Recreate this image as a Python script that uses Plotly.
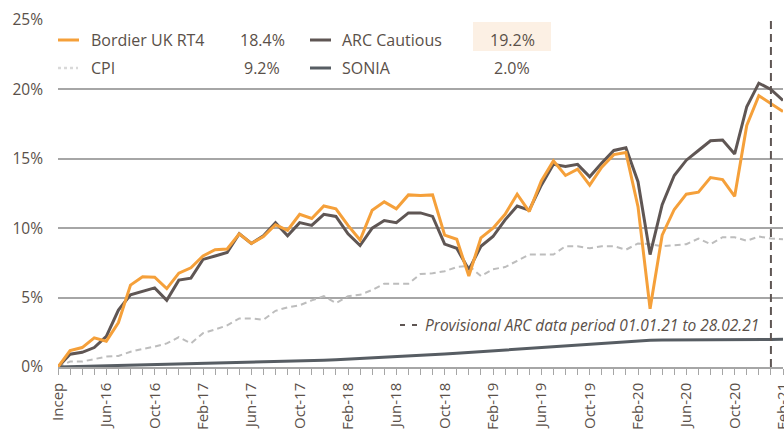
import plotly.graph_objects as go

months = ["Incep",
          "Mar-16", "Apr-16", "May-16", "Jun-16", "Jul-16", "Aug-16", "Sep-16", "Oct-16", "Nov-16", "Dec-16",
          "Jan-17", "Feb-17", "Mar-17", "Apr-17", "May-17", "Jun-17", "Jul-17", "Aug-17", "Sep-17", "Oct-17", "Nov-17", "Dec-17",
          "Jan-18", "Feb-18", "Mar-18", "Apr-18", "May-18", "Jun-18", "Jul-18", "Aug-18", "Sep-18", "Oct-18", "Nov-18", "Dec-18",
          "Jan-19", "Feb-19", "Mar-19", "Apr-19", "May-19", "Jun-19", "Jul-19", "Aug-19", "Sep-19", "Oct-19", "Nov-19", "Dec-19",
          "Jan-20", "Feb-20", "Mar-20", "Apr-20", "May-20", "Jun-20", "Jul-20", "Aug-20", "Sep-20", "Oct-20", "Nov-20", "Dec-20",
          "Jan-21", "Feb-21"]

tick_labels = ["Incep", "Jun-16", "Oct-16", "Feb-17", "Jun-17", "Oct-17", "Feb-18", "Jun-18",
               "Oct-18", "Feb-19", "Jun-19", "Oct-19", "Feb-20", "Jun-20", "Oct-20", "Feb-21"]

bordier = [0, 1.18, 1.4, 2.1, 1.86, 3.2, 5.9, 6.5, 6.47, 5.65, 6.76, 7.15, 8.0, 8.45, 8.5, 9.6, 8.9,
           9.4, 10.25, 9.85, 11.0, 10.7, 11.6, 11.4, 10.2, 9.15, 11.3, 11.9, 11.4, 12.4, 12.35, 12.4,
           9.5, 9.2, 6.55, 9.3, 10.0, 11.0, 12.45, 11.2, 13.4, 14.85, 13.8, 14.25, 13.1, 14.4, 15.3,
           15.45, 11.55, 4.2, 9.5, 11.35, 12.45, 12.6, 13.65, 13.5, 12.3, 17.4, 19.55, 19.0, 18.4]

arc_cautious = [0, 0.92, 1.06, 1.4, 2.2, 4.1, 5.2, 5.46, 5.7, 4.8, 6.26, 6.4, 7.75, 8.0, 8.25, 9.6, 8.9,
                9.45, 10.4, 9.45, 10.4, 10.2, 11.0, 10.85, 9.6, 8.75, 10.0, 10.55, 10.4, 11.1, 11.1, 10.85,
                8.85, 8.55, 7.0, 8.7, 9.4, 10.6, 11.6, 11.3, 13.1, 14.6, 14.45, 14.6, 13.7, 14.7, 15.6,
                15.8, 13.35, 8.1, 11.7, 13.8, 14.9, 15.6, 16.3, 16.35, 15.35, 18.75, 20.45, 20.0, 19.2]

cpi = [0, 0.39, 0.39, 0.58, 0.75, 0.8, 1.1, 1.3, 1.47, 1.7, 2.15, 1.7, 2.44, 2.7, 3.0, 3.5, 3.5,
       3.4, 4.05, 4.3, 4.45, 4.8, 5.1, 4.6, 5.1, 5.2, 5.55, 6.0, 6.0, 6.0, 6.7, 6.75,
       6.9, 7.2, 7.3, 6.55, 7.05, 7.2, 7.65, 8.1, 8.1, 8.1, 8.7, 8.7, 8.55, 8.7, 8.7,
       8.45, 8.9, 8.85, 8.7, 8.75, 8.85, 9.25, 8.85, 9.35, 9.35, 9.1, 9.4, 9.25, 9.2]

sonia = [0, 0.02, 0.04, 0.06, 0.08, 0.10, 0.12, 0.13, 0.15, 0.17, 0.19, 0.21, 0.23, 0.25, 0.27, 0.29, 0.31,
         0.33, 0.35, 0.37, 0.40, 0.44, 0.48, 0.52, 0.56, 0.60, 0.64, 0.68, 0.72, 0.76, 0.81, 0.87,
         0.93, 0.99, 1.05, 1.11, 1.17, 1.23, 1.29, 1.35, 1.41, 1.47, 1.53, 1.59, 1.65, 1.71, 1.77,
         1.83, 1.89, 1.93, 1.94, 1.94, 1.95, 1.95, 1.96, 1.96, 1.97, 1.98, 1.99, 1.99, 2.0]

provisional_start = "Jan-21"

ORANGE = "#F5A03A"
ARC_C = "#5f5654"
SONIA_C = "#575d63"
CPI_C = "#bdbdbd"
TXT = "#5a5049"
GRID = "#a6a6a6"
FONT = "Open Sans"

x = list(range(len(months)))
tickvals = [months.index(t) for t in tick_labels]

fig = go.Figure()
fig.add_trace(go.Scatter(x=x, y=cpi, mode="lines", name="CPI",
                         line=dict(color=CPI_C, width=2, dash="6px,4px")))
fig.add_trace(go.Scatter(x=x, y=sonia, mode="lines", name="SONIA",
                         line=dict(color=SONIA_C, width=3)))
fig.add_trace(go.Scatter(x=x, y=arc_cautious, mode="lines", name="ARC Cautious",
                         line=dict(color=ARC_C, width=3)))
fig.add_trace(go.Scatter(x=x, y=bordier, mode="lines", name="Bordier UK RT4",
                         line=dict(color=ORANGE, width=3)))

L, T, W, H = 58, 20, 725, 347


def px(v):
    return (v - L) / W


def py(v):
    return (T + H - v) / H


shapes = []
annotations = []

# highlight box
shapes.append(dict(type="rect", xref="paper", yref="paper", x0=px(473), x1=px(551), y0=py(51), y1=py(22),
                   fillcolor="#fcf0e4", line=dict(width=0), layer="below"))

legend_rows = [
    ("Bordier UK RT4", bordier, ORANGE, "solid", 58, 79, 89, 262, 40),
    ("CPI", cpi, "#d9d9d9", "dot", 58, 78, 89, 262, 68),
    ("ARC Cautious", arc_cautious, ARC_C, "solid", 310, 331, 340, 512, 40),
    ("SONIA", sonia, SONIA_C, "solid", 310, 331, 340, 512, 68),
]
for name, series, col, dash, lx0, lx1, tx, vx, yy in legend_rows:
    shapes.append(dict(type="line", xref="paper", yref="paper", x0=px(lx0), x1=px(lx1), y0=py(yy), y1=py(yy),
                       line=dict(color=col, width=3 if dash == "solid" else 2.5, dash=dash)))
    annotations.append(dict(xref="paper", yref="paper", x=px(tx), y=py(yy), text=name, showarrow=False,
                            xanchor="left", yanchor="middle", font=dict(family=FONT, size=16, color=TXT)))
    annotations.append(dict(xref="paper", yref="paper", x=px(vx), y=py(yy), text=f"{series[-1]:.1f}%",
                            showarrow=False, xanchor="center", yanchor="middle",
                            font=dict(family=FONT, size=16, color=TXT)))

# provisional line
xv = months.index(provisional_start)
shapes.append(dict(type="line", xref="x", yref="paper", x0=xv, x1=xv, y0=0, y1=1,
                   line=dict(color=ARC_C, width=2, dash="8px,5px")))
shapes.append(dict(type="line", xref="paper", yref="paper", x0=px(400), x1=px(417), y0=py(325), y1=py(325),
                   line=dict(color=ARC_C, width=2, dash="5px,7px")))
annotations.append(dict(xref="paper", yref="paper", x=px(423), y=py(325),
                        text="<i>Provisional ARC data period 01.01.21 to 28.02.21</i>", showarrow=False,
                        xanchor="left", yanchor="middle", font=dict(family=FONT, size=15.5, color=TXT)))

fig.update_layout(
    width=784, height=430,
    margin=dict(l=L, r=784 - L - W, t=T, b=430 - T - H),
    paper_bgcolor="white", plot_bgcolor="white",
    showlegend=False,
    shapes=shapes, annotations=annotations,
    font=dict(family=FONT, color=TXT),
)
fig.update_xaxes(range=[0, len(months) - 1], tickmode="array", tickvals=tickvals, ticktext=tick_labels,
                 tickangle=-90, tickfont=dict(family=FONT, size=15, color=TXT),
                 ticks="outside", ticklen=6, tickcolor=GRID, tickwidth=1,
                 minor=dict(ticks="outside", dtick=1, tick0=0, ticklen=6, tickcolor=GRID, tickwidth=1),
                 showline=True, linecolor=GRID, linewidth=1.5, showgrid=False, zeroline=False,
                 automargin=False, ticklabeloverflow="allow", ticklabelstandoff=2)
fig.update_yaxes(range=[0, 25], dtick=5, ticksuffix="%", tickfont=dict(family=FONT, size=15.5, color=TXT),
                 showgrid=True, gridcolor=GRID, gridwidth=1.5, zeroline=False, showline=False,
                 ticks="", ticklabelstandoff=14, automargin=False)

fig.write_html("out.html", config={"displayModeBar": False},
               post_script="document.body.style.margin='0';document.body.style.overflow='hidden';")
